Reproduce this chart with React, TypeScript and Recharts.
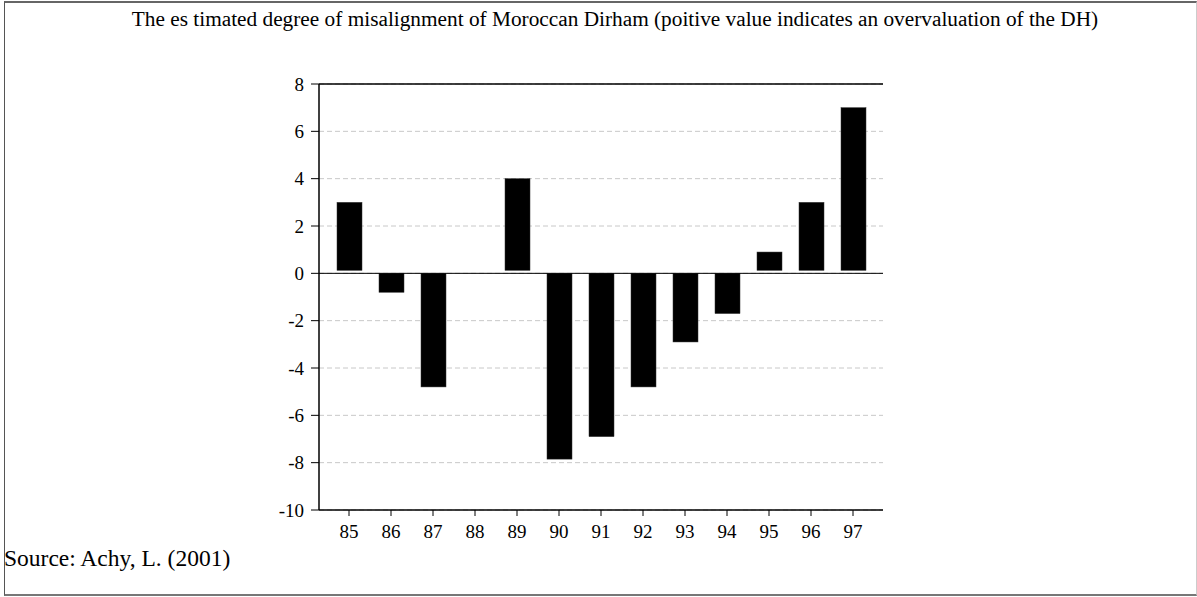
import React from 'react';
import { BarChart, Bar, XAxis, YAxis, CartesianGrid, ReferenceLine } from 'recharts';

const years = ['85', '86', '87', '88', '89', '90', '91', '92', '93', '94', '95', '96', '97'];
const misalignment = [3.0, -0.8, -4.8, 0, 4.0, -7.85, -6.9, -4.8, -2.9, -1.7, 0.9, 3.0, 7.0];
const yTicks = [-10, -8, -6, -4, -2, 0, 2, 4, 6, 8];

const titleText =
  'The es timated degree of misalignment of Moroccan Dirham (poitive value indicates an overvaluation of the DH)';
const sourceText = 'Source: Achy, L. (2001)';

const data = years.map((y, i) => ({ year: y, value: misalignment[i] }));

const FONT = '"Liberation Serif", "Times New Roman", serif';

const BarShape = (props: any) => {
  const { x, y, width, height, value } = props;
  const v = Array.isArray(value) ? value[1] : value;
  if (!height || Math.abs(height) < 0.5) return null;
  let top = Math.min(y, y + height);
  let h = Math.abs(height);
  if (v > 0) {
    h = Math.max(h - 3, 0);
  }
  return <rect x={x} y={top} width={width} height={h} fill="#000" stroke="#333" strokeWidth={0.5} />;
};

export default function App() {
  return (
    <div style={{ position: 'absolute', left: 0, top: 0, width: 1197, height: 597, background: '#fff', fontFamily: FONT }}>
      <div
        style={{
          position: 'absolute',
          left: 4,
          top: 1,
          width: 1193,
          height: 595,
          boxSizing: 'border-box',
          borderLeft: '1px solid #555',
          borderTop: '2px solid #666',
          borderRight: '1px solid #ccc',
          borderBottom: '2px solid #777',
        }}
      />
      <div
        style={{
          position: 'absolute',
          left: 0,
          width: 1230,
          top: 9,
          textAlign: 'center',
          fontSize: 21.3,
          lineHeight: '21.3px',
          whiteSpace: 'nowrap',
          color: '#000',
        }}
      >
        {titleText}
      </div>
      <div
        style={{
          position: 'absolute',
          left: 4,
          top: 547,
          fontSize: 23.5,
          lineHeight: '23.5px',
          whiteSpace: 'nowrap',
          color: '#000',
        }}
      >
        {sourceText}
      </div>
      <div style={{ position: 'absolute', left: 0, top: 0 }}>
        <BarChart
          width={1197}
          height={597}
          data={data}
          margin={{ top: 84, right: 314, left: 259, bottom: 47 }}
          barSize={25}
        >
          <CartesianGrid vertical={false} stroke="#c8c8c8" strokeDasharray="5 3" />
          <XAxis
            dataKey="year"
            padding={{ left: 9, right: 9 }}
            height={40}
            interval={0}
            tickSize={6}
            tickMargin={9}
            axisLine={{ stroke: '#000', strokeWidth: 1.5 }}
            tickLine={{ stroke: '#000' }}
            tick={{ fill: '#000', fontSize: 19, fontFamily: FONT }}
          />
          <YAxis
            domain={[-10, 8]}
            ticks={yTicks}
            interval={0}
            width={60}
            tickSize={8}
            tickMargin={7}
            axisLine={{ stroke: '#000', strokeWidth: 1.5 }}
            tickLine={{ stroke: '#000' }}
            tick={{ fill: '#000', fontSize: 19, fontFamily: FONT }}
          />
          <YAxis
            yAxisId="right"
            orientation="right"
            domain={[-10, 8]}
            width={0}
            tick={false}
            tickLine={false}
            axisLine={{ stroke: '#000', strokeWidth: 2 }}
          />
          <ReferenceLine y={0} stroke="#000" strokeWidth={1} />
          <ReferenceLine y={8} stroke="#000" strokeWidth={1.5} />
          <Bar dataKey="value" fill="#000" shape={BarShape} isAnimationActive={false} />
        </BarChart>
      </div>
    </div>
  );
}
